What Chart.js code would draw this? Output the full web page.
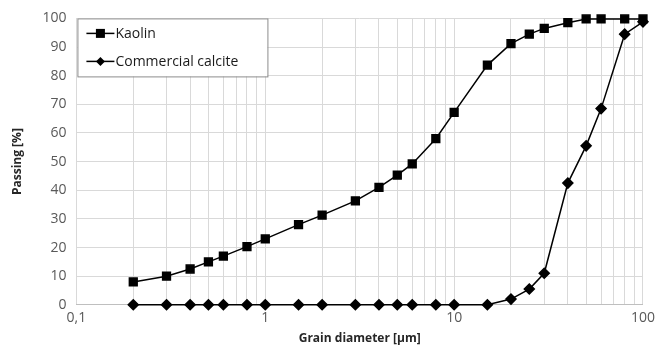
<!DOCTYPE html>
<html>
<head>
<meta charset="utf-8">
<script src="https://cdn.jsdelivr.net/npm/chart.js@4"></script>
<style>
  html, body { margin: 0; padding: 0; background: #fff; }
  #wrap { width: 660px; height: 346px; }
</style>
</head>
<body>
<div id="wrap"><canvas id="psdChart" width="660" height="346"></canvas></div>
<script>
const diameters = [0.2, 0.3, 0.4, 0.5, 0.6, 0.8, 1, 1.5, 2, 3, 4, 5, 6, 8, 10, 15, 20, 25, 30, 40, 50, 60, 80, 100];
const kaolin = [8, 10, 12.5, 15, 17, 20.3, 23, 28, 31.3, 36.3, 41, 45.3, 49.2, 58, 67.2, 83.7, 91.2, 94.5, 96.5, 98.5, 99.8, 99.8, 99.8, 99.8];
const calcite = [0, 0, 0, 0, 0, 0, 0, 0, 0, 0, 0, 0, 0, 0, 0, 0, 2, 5.5, 11, 42.5, 55.5, 68.5, 94.5, 98.8];
const seriesNames = ['Kaolin', 'Commercial calcite'];
const xTickLabels = { 0.1: '0,1', 1: '1', 10: '10', 100: '100' };

const FONT = "'Open Sans', 'DejaVu Sans', sans-serif";

function toPoints(ys) {
    return diameters.map((d, i) => ({ x: d, y: ys[i] }));
}

// legend box with line + marker, like the spreadsheet legend
const boxLegend = {
    id: 'boxLegend',
    afterDatasetsDraw(chart) {
        const ctx = chart.ctx;
        const area = chart.chartArea;
        const x0 = area.left + 1, y0 = area.top, w = 190, h = 58;
        ctx.save();
        ctx.fillStyle = '#fff';
        ctx.fillRect(x0, y0, w, h);
        ctx.strokeStyle = '#8c8c8c';
        ctx.lineWidth = 1;
        ctx.strokeRect(x0 + 0.5, y0 + 0.5, w, h);
        chart.data.datasets.forEach((ds, i) => {
            const cy = y0 + 15 + i * 28;
            ctx.strokeStyle = '#000';
            ctx.lineWidth = 1.5;
            ctx.beginPath();
            ctx.moveTo(x0 + 9, cy);
            ctx.lineTo(x0 + 37, cy);
            ctx.stroke();
            ctx.fillStyle = '#000';
            if (ds.pointStyle === 'rect') {
                ctx.fillRect(x0 + 23 - 4.5, cy - 4.5, 9, 9);
            } else {
                ctx.beginPath();
                ctx.moveTo(x0 + 23, cy - 4.5);
                ctx.lineTo(x0 + 27.5, cy);
                ctx.lineTo(x0 + 23, cy + 4.5);
                ctx.lineTo(x0 + 18.5, cy);
                ctx.closePath();
                ctx.fill();
            }
            ctx.font = '14px ' + FONT;
            ctx.fillStyle = '#1a1a1a';
            ctx.textBaseline = 'middle';
            ctx.fillText(ds.label, x0 + 38, cy + 1);
        });
        ctx.restore();
    }
};

new Chart(document.getElementById('psdChart'), {
    type: 'line',
    data: {
        datasets: [{
            label: seriesNames[0],
            data: toPoints(kaolin),
            borderColor: '#000',
            backgroundColor: '#000',
            borderWidth: 1.5,
            pointStyle: 'rect',
            pointRadius: 5.5,
            tension: 0,
            clip: false
        }, {
            label: seriesNames[1],
            data: toPoints(calcite),
            borderColor: '#000',
            backgroundColor: '#000',
            borderWidth: 1.5,
            pointStyle: 'rectRot',
            pointRadius: 5,
            tension: 0,
            clip: false
        }]
    },
    options: {
        responsive: false,
        animation: false,
        layout: { padding: { left: 10, right: 0, top: 10, bottom: 0 } },
        scales: {
            x: {
                type: 'logarithmic',
                min: 0.1,
                max: 100,
                afterBuildTicks: function (axis) {
                    const t = [];
                    [0.1, 1, 10].forEach(dec => {
                        for (let m = 1; m < 10; m++) t.push({ value: +(dec * m).toPrecision(3) });
                    });
                    t.push({ value: 100 });
                    axis.ticks = t;
                },
                ticks: {
                    autoSkip: false,
                    maxRotation: 0,
                    color: '#595959',
                    font: { family: FONT, size: 14 },
                    padding: 5,
                    callback: function (v) { return xTickLabels[v] || ''; }
                },
                grid: {
                    color: '#d9d9d9',
                    drawTicks: false
                },
                border: { color: '#bfbfbf' },
                title: {
                    display: true,
                    text: 'Grain diameter [µm]',
                    color: '#262626',
                    font: { family: FONT, size: 12, weight: 'bold' },
                    padding: { top: 0, bottom: 0 }
                }
            },
            y: {
                min: 0,
                max: 100,
                ticks: {
                    stepSize: 10,
                    color: '#595959',
                    font: { family: FONT, size: 14 },
                    padding: 10
                },
                grid: {
                    color: '#d9d9d9',
                    drawTicks: false
                },
                border: { display: false },
                title: {
                    display: true,
                    text: 'Passing [%]',
                    color: '#262626',
                    font: { family: FONT, size: 12, weight: 'bold' },
                    padding: { top: 0, bottom: 8 }
                }
            }
        },
        plugins: {
            legend: { display: false },
            tooltip: { enabled: false }
        }
    },
    plugins: [boxLegend]
});
</script>
</body>
</html>
